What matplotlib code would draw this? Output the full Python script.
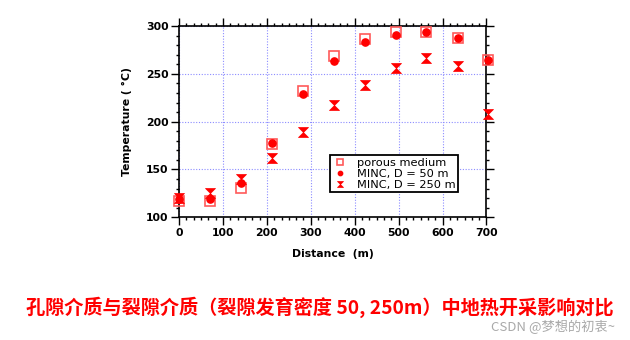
import numpy as np
import matplotlib
matplotlib.use("Agg")
import matplotlib.pyplot as plt
from matplotlib.path import Path
from matplotlib.ticker import MultipleLocator, AutoMinorLocator

# Distance along the profile (m)
distance = [0, 70, 141, 211, 282, 352, 423, 493, 563, 634, 704]

# Temperature (°C) for each model
porous_medium = [117.4, 117.4, 131.0, 176.3, 232.4, 269.0, 286.7, 293.7, 293.4, 287.5, 264.5]
minc_50 = [119.1, 119.3, 135.5, 177.4, 229.2, 263.7, 283.0, 291.0, 293.4, 287.5, 264.5]
minc_250 = [120.5, 125.7, 139.7, 161.7, 189.2, 217.1, 238.0, 256.1, 266.2, 258.2, 208.0]

series_labels = ["porous medium", "MINC, D = 50 m", "MINC, D = 250 m"]
x_label = "Distance  (m)"
y_label = "Temperature ( °C)"
caption = "孔隙介质与裂隙介质（裂隙发育密度 50, 250m）中地热开采影响对比"
watermark = "CSDN @梦想的初衷~"

# hourglass marker: two triangles meeting at the centre
hourglass = Path([(-1, 1), (1, 1), (-1, -1), (1, -1), (-1, 1)],
                 [Path.MOVETO, Path.LINETO, Path.LINETO, Path.LINETO, Path.CLOSEPOLY])

plt.rcParams["font.family"] = ["DejaVu Sans"]

fig = plt.figure(figsize=(6.3, 3.4), dpi=100)
ax = fig.add_axes([179 / 630, 1 - 217.3 / 340, 307.5 / 630, 191.3 / 340])

ax.plot(distance, porous_medium, ls="none", marker="s", ms=7.6, mfc="none",
        mec="#ff5a5a", mew=1.2, clip_on=False, zorder=3, label=series_labels[0])
ax.plot(distance, minc_50, ls="none", marker="o", ms=5.2, mfc="#ff0000",
        mec="#ff0000", clip_on=False, zorder=4, label=series_labels[1])
ax.plot(distance, minc_250, ls="none", marker=hourglass, ms=7.2, mfc="#ff0000",
        mec="#ff0000", mew=0.5, clip_on=False, zorder=4, label=series_labels[2])

ax.set_xlim(0, 700)
ax.set_ylim(100, 300)
ax.xaxis.set_major_locator(MultipleLocator(100))
ax.xaxis.set_minor_locator(AutoMinorLocator(6))
ax.yaxis.set_major_locator(MultipleLocator(50))
ax.yaxis.set_minor_locator(AutoMinorLocator(5))

ax.grid(True, which="major", color="#8c8cff", ls=(0, (1, 1.5)), lw=0.8)
ax.tick_params(which="both", direction="out", top=True, right=True,
               labeltop=False, labelright=False, width=1.0, color="black")
ax.tick_params(which="major", length=5.5, labelsize=7.8, pad=2)
ax.tick_params(which="minor", length=2.5)
for lab in ax.get_xticklabels() + ax.get_yticklabels():
    lab.set_fontweight("bold")
for sp in ax.spines.values():
    sp.set_linewidth(1.2)
    sp.set_color("black")

ax.set_xlabel(x_label, fontsize=7.8, fontweight="bold", labelpad=8)
ax.set_ylabel(y_label, fontsize=7.8, fontweight="bold", labelpad=10)

leg = ax.legend(loc="upper left", bbox_to_anchor=(0.491, 0.326), fontsize=8.2,
                markerscale=0.6, frameon=True, fancybox=False, framealpha=1,
                edgecolor="black", borderpad=0.25, labelspacing=0.08,
                handlelength=1.2, handletextpad=0.9, borderaxespad=0)
leg.get_frame().set_linewidth(1.3)

fig.text(0.508, 1 - 307 / 340, caption, color="#ff0000", fontsize=13.8,
         fontweight="bold", ha="center", va="center",
         family=["Noto Sans CJK SC", "DejaVu Sans"])
fig.text(615 / 630, 1 - 327 / 340, watermark, color="#9a9a9a", alpha=0.85,
         fontsize=9.5, ha="right", va="center",
         family=["Noto Sans CJK SC", "DejaVu Sans"])

fig.savefig("out.png", dpi=100)
